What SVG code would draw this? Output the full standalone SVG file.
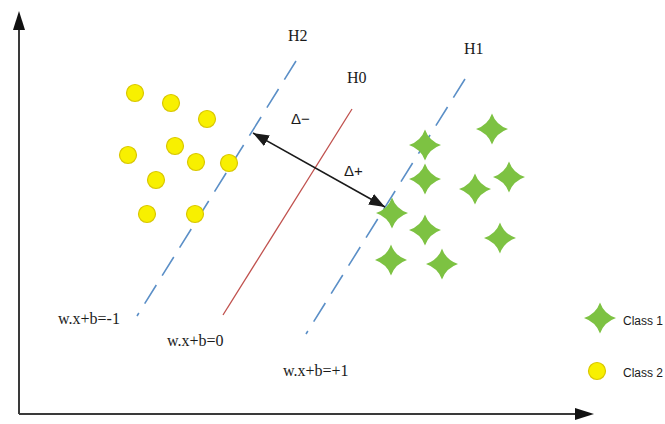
<svg xmlns="http://www.w3.org/2000/svg" xmlns:xlink="http://www.w3.org/1999/xlink" width="665" height="424" viewBox="0 0 665 424">
  <style>
    .axis { stroke: #3a3a3a; stroke-width: 2; fill: none; }
    .margin { stroke: #5b8fc7; stroke-width: 1.6; fill: none; stroke-dasharray: 22 11; }
    .hyper { stroke: #c0504d; stroke-width: 1.3; fill: none; }
    .dist { stroke: #1a1a1a; stroke-width: 1.6; fill: none; }
    .serif { font-family: "Liberation Serif", "Times New Roman", serif; font-size: 16px; fill: #1a1a1a; }
    .delta { font-family: "Liberation Sans", Arial, sans-serif; font-size: 15px; fill: #1a1a1a; }
    .legend { font-family: "Liberation Sans", Arial, sans-serif; font-size: 12px; fill: #1a1a1a; }
    .c2 { fill: #f8f000; stroke: #d9c700; stroke-width: 1.2; }
    .c1 { fill: #7dc242; }
  </style>
  <defs>
    <path id="star" d="M0,-15.5 Q4,-4 16,0 Q4,4 0,15.5 Q-4,4 -16,0 Q-4,-4 0,-15.5 Z"/>
    <marker id="dh" viewBox="0 0 16 12" refX="16" refY="6" markerWidth="16" markerHeight="12" markerUnits="userSpaceOnUse" orient="auto-start-reverse">
      <path d="M0,0 L16,6 L0,12 Z" fill="#1a1a1a"/>
    </marker>
  </defs>

  <rect width="665" height="424" fill="#ffffff"/>

  <g id="axes">
    <path class="axis" d="M19,414 L19,28"/>
    <path d="M19,11 L13,30 L25,30 Z" fill="#111"/>
    <path class="axis" d="M19,414 L577,414"/>
    <path d="M594,414 L575,408 L575,420 Z" fill="#111"/>
  </g>

  <g id="connectors">
    <path id="H2-line" class="margin" d="M296,61 L137,316"/>
    <path id="H0-line" class="hyper" d="M352,109 L223,315"/>
    <path id="H1-line" class="margin" d="M465,79 L306,334"/>
  </g>

  <g id="class2-points">
    <circle class="c2" cx="135" cy="93" r="8.5"/>
    <circle class="c2" cx="171" cy="103" r="8.5"/>
    <circle class="c2" cx="207" cy="119" r="8.5"/>
    <circle class="c2" cx="175" cy="146" r="8.5"/>
    <circle class="c2" cx="128" cy="155" r="8.5"/>
    <circle class="c2" cx="196" cy="162" r="8.5"/>
    <circle class="c2" cx="229" cy="163" r="8.5"/>
    <circle class="c2" cx="156" cy="180" r="8.5"/>
    <circle class="c2" cx="147" cy="214" r="8.5"/>
    <circle class="c2" cx="195" cy="214" r="8.5"/>
  </g>

  <g id="class1-points" class="c1">
    <use xlink:href="#star" href="#star" x="425" y="145"/>
    <use xlink:href="#star" href="#star" x="425" y="179"/>
    <use xlink:href="#star" href="#star" x="492" y="129"/>
    <use xlink:href="#star" href="#star" x="475" y="189"/>
    <use xlink:href="#star" href="#star" x="509" y="177"/>
    <use xlink:href="#star" href="#star" x="392" y="213"/>
    <use xlink:href="#star" href="#star" x="425" y="230"/>
    <use xlink:href="#star" href="#star" x="500" y="238"/>
    <use xlink:href="#star" href="#star" x="391" y="260"/>
    <use xlink:href="#star" href="#star" x="442" y="264"/>
  </g>

  <g id="margin-arrow">
    <path class="dist" d="M253,133 L385,207" marker-start="url(#dh)" marker-end="url(#dh)"/>
  </g>

  <g id="labels">
    <text class="serif" x="288" y="41">H2</text>
    <text class="serif" x="347" y="83">H0</text>
    <text class="serif" x="464" y="54">H1</text>
    <text class="delta" x="291" y="124">Δ−</text>
    <text class="delta" x="344" y="176">Δ+</text>
    <text class="serif" x="58" y="324">w.x+b=-1</text>
    <text class="serif" x="167" y="346">w.x+b=0</text>
    <text class="serif" x="283" y="376">w.x+b=+1</text>
  </g>

  <g id="legend">
    <use xlink:href="#star" href="#star" x="600" y="318" class="c1"/>
    <text class="legend" x="623" y="325">Class 1</text>
    <circle class="c2" cx="597" cy="371" r="8.5"/>
    <text class="legend" x="623" y="377">Class 2</text>
  </g>
</svg>
